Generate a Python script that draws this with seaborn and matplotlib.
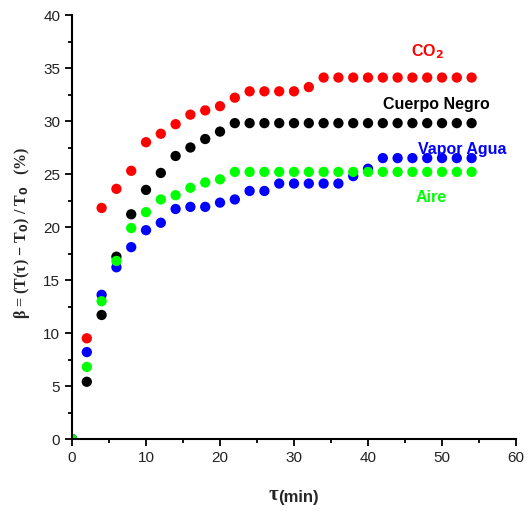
import numpy as np
import pandas as pd
import matplotlib
matplotlib.use('Agg')
import matplotlib.pyplot as plt
import seaborn as sns
from matplotlib.ticker import MultipleLocator

# time in minutes
tau = [0, 2, 4, 6, 8, 10, 12, 14, 16, 18, 20, 22, 24, 26, 28,
       30, 32, 34, 36, 38, 40, 42, 44, 46, 48, 50, 52, 54]

co2 = [0, 9.5, 21.8, 23.6, 25.3, 28.0, 28.8, 29.7, 30.6, 31.0, 31.4, 32.2, 32.8, 32.8, 32.8,
       32.8, 33.2, 34.1, 34.1, 34.1, 34.1, 34.1, 34.1, 34.1, 34.1, 34.1, 34.1, 34.1]
cuerpo_negro = [0, 5.4, 11.7, 17.2, 21.2, 23.5, 25.1, 26.7, 27.5, 28.3, 29.0, 29.8, 29.8, 29.8, 29.8,
                29.8, 29.8, 29.8, 29.8, 29.8, 29.8, 29.8, 29.8, 29.8, 29.8, 29.8, 29.8, 29.8]
vapor_agua = [0, 8.2, 13.6, 16.2, 18.1, 19.7, 20.4, 21.7, 21.9, 21.9, 22.3, 22.6, 23.4, 23.4, 24.1,
              24.1, 24.1, 24.1, 24.1, 24.8, 25.5, 26.5, 26.5, 26.5, 26.5, 26.5, 26.5, 26.5]
aire = [0, 6.8, 13.0, 16.8, 19.9, 21.4, 22.6, 23.0, 23.7, 24.2, 24.5, 25.2, 25.2, 25.2, 25.2,
        25.2, 25.2, 25.2, 25.2, 25.2, 25.2, 25.2, 25.2, 25.2, 25.2, 25.2, 25.2, 25.2]

series = [('Cuerpo Negro', cuerpo_negro, '#000000'),
          ('CO2', co2, '#ff0000'),
          ('Vapor Agua', vapor_agua, '#0000ff'),
          ('Aire', aire, '#00ff00')]

sns.set_style('ticks')
plt.rcParams['font.family'] = ['Liberation Sans', 'DejaVu Sans']

fig = plt.figure(figsize=(5.28, 5.14), dpi=100)
ax = fig.add_axes([0.1364, 0.1459, 0.8409, 0.8249])

for name, vals, col in series:
    df = pd.DataFrame({'tau': tau, 'beta': vals})
    sns.scatterplot(data=df, x='tau', y='beta', color=col, s=55,
                    edgecolor='none', ax=ax, legend=False)

ax.set_xlim(0, 60)
ax.set_ylim(0, 40)
ax.xaxis.set_major_locator(MultipleLocator(10))
ax.xaxis.set_minor_locator(MultipleLocator(5))
ax.yaxis.set_major_locator(MultipleLocator(5))
ax.yaxis.set_minor_locator(MultipleLocator(2.5))
ax.tick_params(which='major', length=5, width=1.3, labelsize=11, direction='out',
               color='black', labelcolor='#222222')
ax.tick_params(which='minor', length=3, width=1.3, direction='out', color='black')
sns.despine(ax=ax)
for sp in ['left', 'bottom']:
    ax.spines[sp].set_linewidth(1.5)
    ax.spines[sp].set_color('black')

ax.set_xlabel('')
ax.set_ylabel('')

# series labels
ax.text(48.0, 36.5, 'CO$_\\mathbf{2}$', color='#ff0000', fontsize=11.5, fontweight='bold', ha='center', va='center')
ax.text(49.3, 31.6, 'Cuerpo Negro', color='#000000', fontsize=11.5, fontweight='bold', ha='center', va='center')
ax.text(52.8, 27.3, 'Vapor Agua', color='#0000ff', fontsize=11.5, fontweight='bold', ha='center', va='center')
ax.text(48.6, 22.8, 'Aire', color='#00ff00', fontsize=11.5, fontweight='bold', ha='center', va='center')

fig.text(0.042, 0.547, r'β = (T(τ) − T$_\mathbf{0}$) / T$_\mathbf{0}$   (%)', rotation=90,
         fontsize=11.5, fontweight='bold', ha='center', va='center',
         family=['Liberation Serif', 'DejaVu Serif'])
fig.text(0.5265, 0.018, 'τ', fontsize=15, fontweight='bold', ha='right', va='bottom',
         family=['Liberation Serif', 'DejaVu Serif'])
fig.text(0.5265, 0.018, '(min)', fontsize=12, fontweight='bold', ha='left', va='bottom')

fig.savefig('out.png', dpi=100)
